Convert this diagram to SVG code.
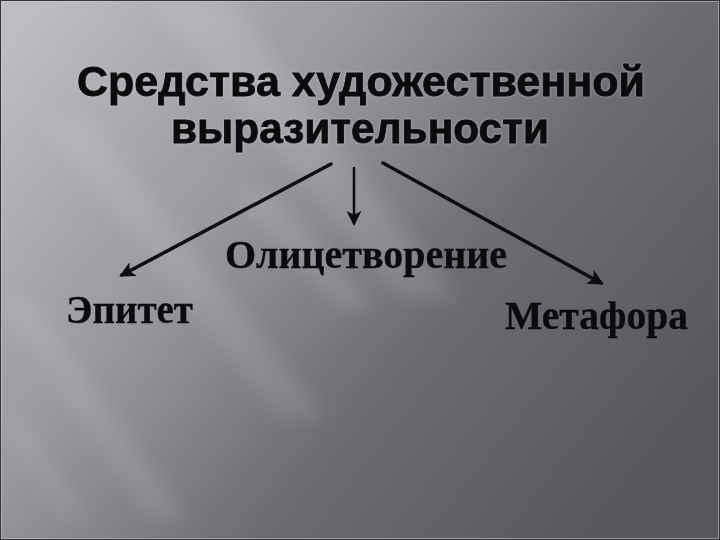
<svg xmlns="http://www.w3.org/2000/svg" width="720" height="540" viewBox="0 0 720 540">
  <defs>
    <linearGradient id="bg" x1="0" y1="0.1" x2="1" y2="0.7">
      <stop offset="0" stop-color="#bcbcc1"/>
      <stop offset="0.35" stop-color="#98989e"/>
      <stop offset="0.65" stop-color="#6c6c72"/>
      <stop offset="1" stop-color="#58575e"/>
    </linearGradient>
    <filter id="blur" x="-50%" y="-50%" width="200%" height="200%">
      <feGaussianBlur stdDeviation="10"/>
    </filter>
    <filter id="halo" x="-10%" y="-30%" width="120%" height="160%">
      <feGaussianBlur stdDeviation="1"/>
    </filter>
    <marker id="ah" viewBox="0 0 10 10" refX="8" refY="5" markerWidth="4.5" markerHeight="4.5" orient="auto" markerUnits="strokeWidth">
      <path d="M0,0 L10,5 L0,10 L2.5,5 Z" fill="#0d0d0f"/>
    </marker>
    <marker id="ahs" viewBox="0 0 10 10" refX="8" refY="5" markerWidth="6" markerHeight="6" orient="auto" markerUnits="strokeWidth">
      <path d="M0,0 L10,5 L0,10 L2.5,5 Z" fill="#0d0d0f"/>
    </marker>
  </defs>
  <style>
    .title { font-family: "Liberation Sans", Arial, sans-serif; font-weight: bold; font-size: 42px; fill: #0b0b0d; stroke: #0b0b0d; stroke-width: 0.8; }
    .lbl { font-family: "Liberation Serif", "Times New Roman", serif; font-weight: bold; font-size: 40px; fill: #0b0b0d; stroke: #0b0b0d; stroke-width: 0.3; }
    .halo { stroke: #d8d8dc; stroke-width: 2.5; fill: none; opacity: 0.3; }
    .conn { stroke: #0d0d0f; fill: none; stroke-linecap: round; }
  </style>

  <rect x="0" y="0" width="720" height="540" fill="url(#bg)"/>
  <g filter="url(#blur)" fill="#ffffff">
    <polygon points="150,0 230,0 460,300 400,300" opacity="0.12"/>
    <polygon points="40,120 90,120 330,420 280,420" opacity="0.10"/>
    <polygon points="0,300 30,300 190,520 150,520" opacity="0.10"/>
    <polygon points="230,190 270,190 380,310 340,310" opacity="0.12"/>
    <polygon points="0,420 20,420 90,520 60,520" opacity="0.08"/>
  </g>
  <rect x="1.5" y="1.5" width="717" height="537" fill="none" stroke="#d0d0d4" stroke-width="1" opacity="0.5"/>
  <rect x="0.5" y="0.5" width="719" height="539" fill="none" stroke="#333338" stroke-width="1"/>

  <g id="title">
    <text class="title halo" filter="url(#halo)" x="361" y="96" text-anchor="middle" textLength="568" lengthAdjust="spacingAndGlyphs">Средства художественной</text>
    <text class="title" x="361" y="96" text-anchor="middle" textLength="568" lengthAdjust="spacingAndGlyphs">Средства художественной</text>
    <text class="title halo" filter="url(#halo)" x="360" y="143" text-anchor="middle" textLength="378" lengthAdjust="spacingAndGlyphs">выразительности</text>
    <text class="title" x="360" y="143" text-anchor="middle" textLength="378" lengthAdjust="spacingAndGlyphs">выразительности</text>
  </g>

  <g id="connectors">
    <line class="conn" x1="331" y1="164" x2="122" y2="275" stroke-width="3.5" marker-end="url(#ah)"/>
    <line class="conn" x1="354" y1="168" x2="354" y2="223" stroke-width="2.5" marker-end="url(#ahs)"/>
    <line class="conn" x1="383" y1="163" x2="601" y2="283" stroke-width="3.5" marker-end="url(#ah)"/>
  </g>

  <g id="node-olicetvorenie">
    <text class="lbl" x="366" y="268" text-anchor="middle" textLength="282" lengthAdjust="spacingAndGlyphs">Олицетворение</text>
  </g>
  <g id="node-epitet">
    <text class="lbl" x="66" y="323" textLength="127" lengthAdjust="spacingAndGlyphs">Эпитет</text>
  </g>
  <g id="node-metafora">
    <text class="lbl" x="505" y="329" textLength="183" lengthAdjust="spacingAndGlyphs">Метафора</text>
  </g>
</svg>
